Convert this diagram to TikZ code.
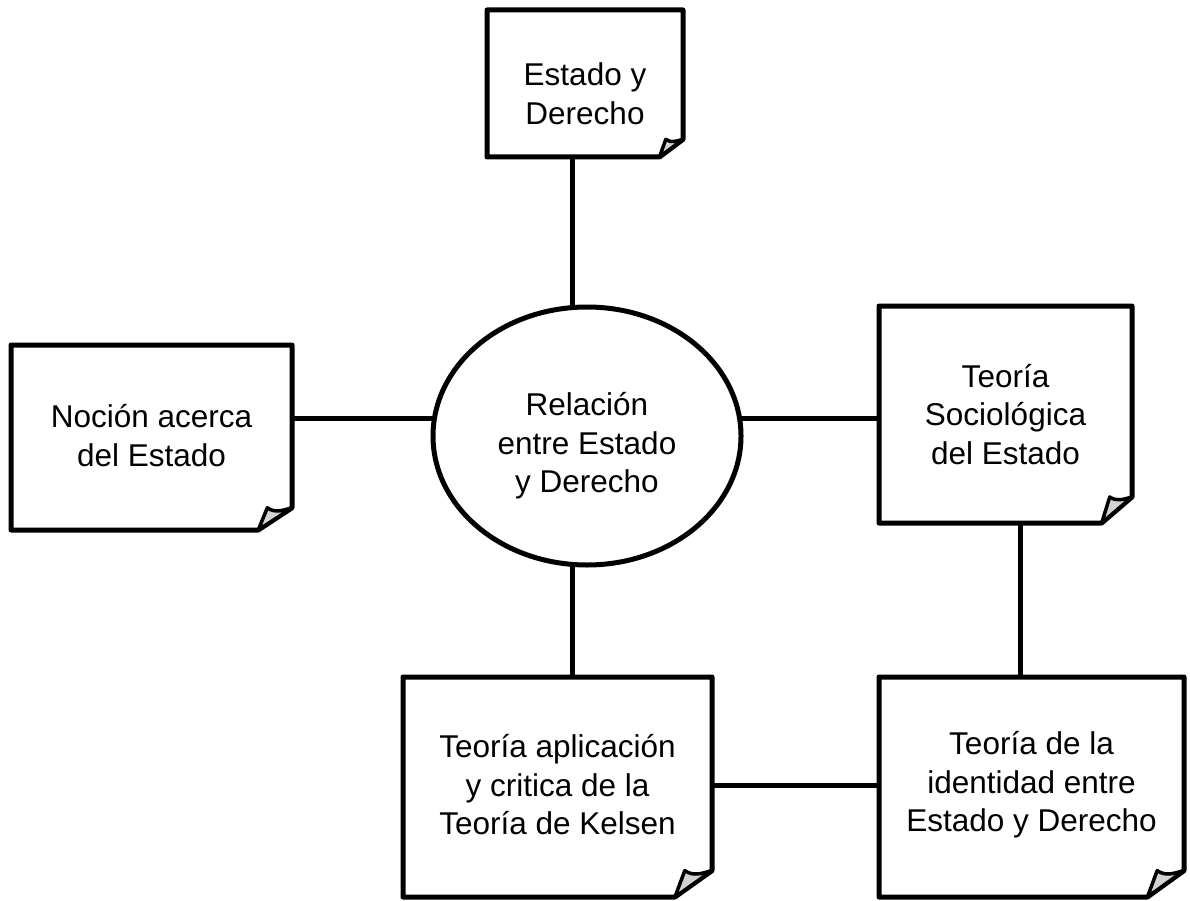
\documentclass[tikz,border=0pt]{standalone}
\usepackage{fontspec}
\setmainfont{Liberation Sans}
\usetikzlibrary{calc,shapes.geometric,backgrounds}
\tikzset{
  notebox/.style={rectangle,draw=none,outer sep=0pt,inner sep=0pt},
  notepen/.style={line width=5pt,line join=round,draw=black},
  flappen/.style={line width=3.5pt,line join=round,draw=black,fill=gray!35},
  txt/.style={align=center,inner sep=0pt,font=\fontsize{31.5}{38.5}\selectfont},
  oval/.style={ellipse,draw=black,line width=5pt,fill=white,outer sep=0pt,inner sep=0pt},
  conn/.style={line width=5pt,draw=black}
}
\newcommand\notebox[1]{%
  \coordinate (#1-a) at ($(#1.south east)!0.12!(#1.south west)$);
  \coordinate (#1-b) at ($(#1.south east)!0.12!(#1.north east)$);
  \coordinate (#1-t0) at ($(#1.south east)!0.088!(#1.south west)$);
  \coordinate (#1-t) at (#1-t0 |- #1-b);
  \draw[notepen] (#1.north west) -- (#1.north east) -- (#1-b) -- (#1-a) -- (#1.south west) -- cycle;
  \draw[flappen] (#1-a) -- (#1-t) to[out=-35,in=195] (#1-b) -- cycle;
}
\begin{document}
\begin{tikzpicture}[x=1pt,y=-1pt]
\useasboundingbox (0,0) rectangle (1190,901);
% boxes
\node[notebox,minimum width=196pt,minimum height=147pt] (top) at (585,83.5) {};
\node[notebox,minimum width=281pt,minimum height=185pt] (left) at (151.5,437.5) {};
\node[notebox,minimum width=253pt,minimum height=217pt] (right) at (1005.5,414.5) {};
\node[notebox,minimum width=309pt,minimum height=220pt] (bl) at (557.5,787) {};
\node[notebox,minimum width=305pt,minimum height=220pt] (br) at (1031.5,787) {};
\node[oval,minimum width=308pt,minimum height=258pt] (rel) at (587,436) {};
\notebox{top}
\notebox{left}
\notebox{right}
\notebox{bl}
\notebox{br}
% texts
\node[txt] (top-t) at ($(top)+(0,10)$) {Estado y\\Derecho};
\node[txt] (left-t) at ($(left)+(0,-2)$) {Noción acerca\\del Estado};
\node[txt] (right-t) at ($(right)+(0,0)$) {Teoría\\Sociológica\\del Estado};
\node[txt] (bl-t) at ($(bl)+(0,-2)$) {Teoría aplicación\\y critica de la\\Teoría de Kelsen};
\node[txt] (br-t) at ($(br)+(0,-2)$) {Teoría de la\\identidad entre\\Estado y Derecho};
\node[txt] (rel-t) at ($(rel)+(0,10)$) {Relación\\entre Estado\\y Derecho};
% connectors
\coordinate (vx) at (572,0);
\coordinate (hy) at (0,418);
\coordinate (by) at (0,785);
\coordinate (rx) at (1020,0);
\begin{pgfonlayer}{background}
\draw[conn] (top.south -| vx) -- (vx |- rel.center);
\draw[conn] (vx |- rel.center) -- (bl.north -| vx);
\draw[conn] (left.east |- hy) -- (hy -| rel.center);
\draw[conn] (hy -| rel.center) -- (right.west |- hy);
\draw[conn] (right.south -| rx) -- (br.north -| rx);
\draw[conn] (bl.east |- by) -- (br.west |- by);
\end{pgfonlayer}
\end{tikzpicture}
\end{document}
